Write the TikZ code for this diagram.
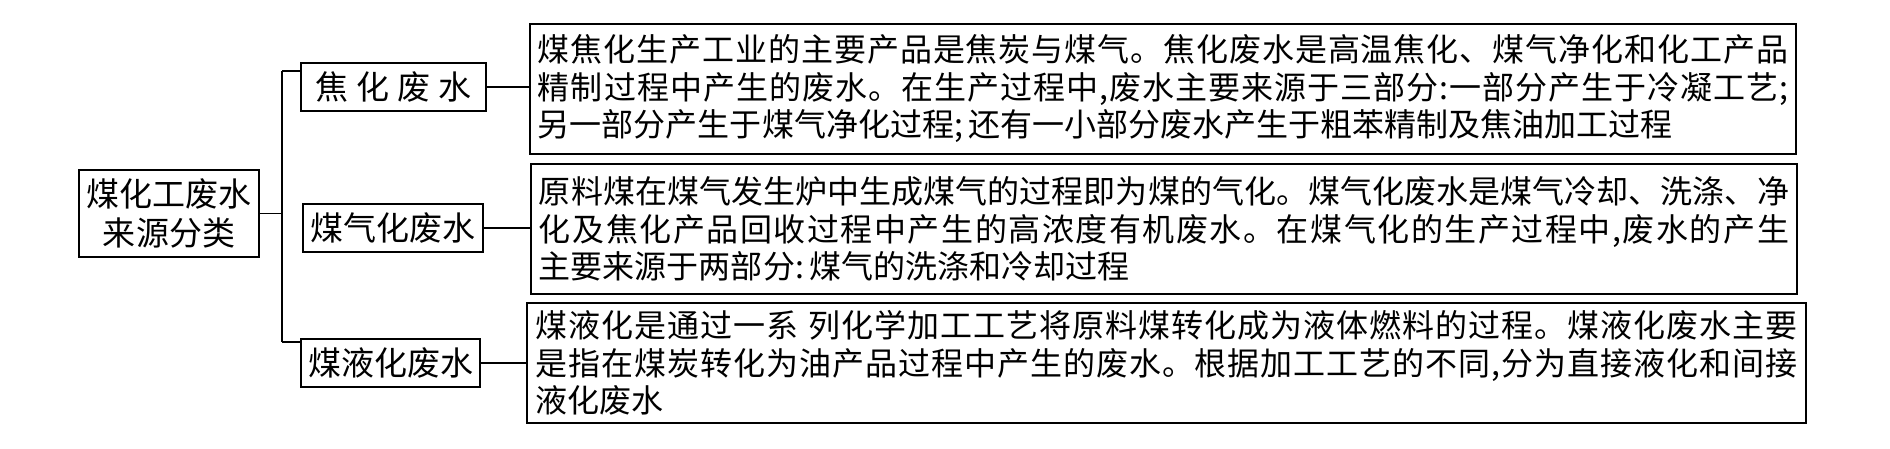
\documentclass[tikz,border=0pt]{standalone}
\usepackage{fontspec}
\setmainfont{Noto Sans CJK SC}
\newcommand\jline[2]{\hbox to #1{\jfirst#2\relax}}
\def\jfirst#1{#1\jrest}
\def\jrest#1{\ifx\relax#1\else\hfil#1\expandafter\jrest\fi}

\begin{document}
\begin{tikzpicture}[x=0.5bp,y=-0.5bp,line width=0.7bp]
  \tikzstyle{every node}+=[inner sep=0pt]
  \tikzstyle{box}=[draw,font=\fontsize{16.5bp}{19.5bp}\selectfont]
  \tikzstyle{kind}=[box,minimum height=24bp]
  \tikzstyle{desc}=[draw,align=left,font=\fontsize{16bp}{18.75bp}\selectfont]
  \useasboundingbox (0,0) rectangle (1890,449);
  \node [box,align=center,minimum width=90bp,minimum height=43.5bp] (root) at (169,213.5) {煤化工废水\\来源分类};
  \node [kind,minimum width=92.5bp] (coke) at (393.5,87) {焦\hspace{4bp}化\hspace{4bp}废\hspace{4bp}水};
  \node [kind,minimum width=90bp] (gasif) at (393,228) {煤气化废水};
  \node [kind,minimum width=89.5bp] (liquef) at (390.5,363) {煤液化废水};
  \node [desc,minimum width=633bp,minimum height=65bp] (cokedesc) at (1163,89) {%
    \jline{625bp}{煤焦化生产工业的主要产品是焦炭与煤气。焦化废水是高温焦化、煤气净化和化工产品}\\
    \jline{625bp}{精制过程中产生的废水。在生产过程中,废水主要来源于三部分:一部分产生于冷凝工艺;}\\
    另一部分产生于煤气净化过程;\hspace{3bp}还有一小部分废水产生于粗苯精制及焦油加工过程};
  \node [desc,minimum width=633bp,minimum height=65bp] (gasifdesc) at (1164,229) {%
    \jline{625bp}{原料煤在煤气发生炉中生成煤气的过程即为煤的气化。煤气化废水是煤气冷却、洗涤、净}\\
    \jline{625bp}{化及焦化产品回收过程中产生的高浓度有机废水。在煤气化的生产过程中,废水的产生}\\
    主要来源于两部分:\hspace{3bp}煤气的洗涤和冷却过程};
  \node [desc,minimum width=639.5bp,minimum height=60bp] (liquefdesc) at (1166.5,363) {%
    \jline{630.5bp}{煤液化是通过一系\ 列化学加工工艺将原料煤转化成为液体燃料的过程。煤液化废水主要}\\
    \jline{630.5bp}{是指在煤炭转化为油产品过程中产生的废水。根据加工工艺的不同,分为直接液化和间接}\\
    液化废水};
  \coordinate (top) at (282,71);
  \coordinate (bot) at (282,342);
  \draw (root.east) -- (root.east -| top);
  \draw (top) -- (bot);
  \draw (top) -- (top -| coke.west);
  \draw (bot) -- (bot -| liquef.west);
  \draw (coke.east) -- (coke.east -| cokedesc.west);
  \draw (gasif.east) -- (gasif.east -| gasifdesc.west);
  \draw (liquef.east) -- (liquef.east -| liquefdesc.west);
\end{tikzpicture}
\end{document}
